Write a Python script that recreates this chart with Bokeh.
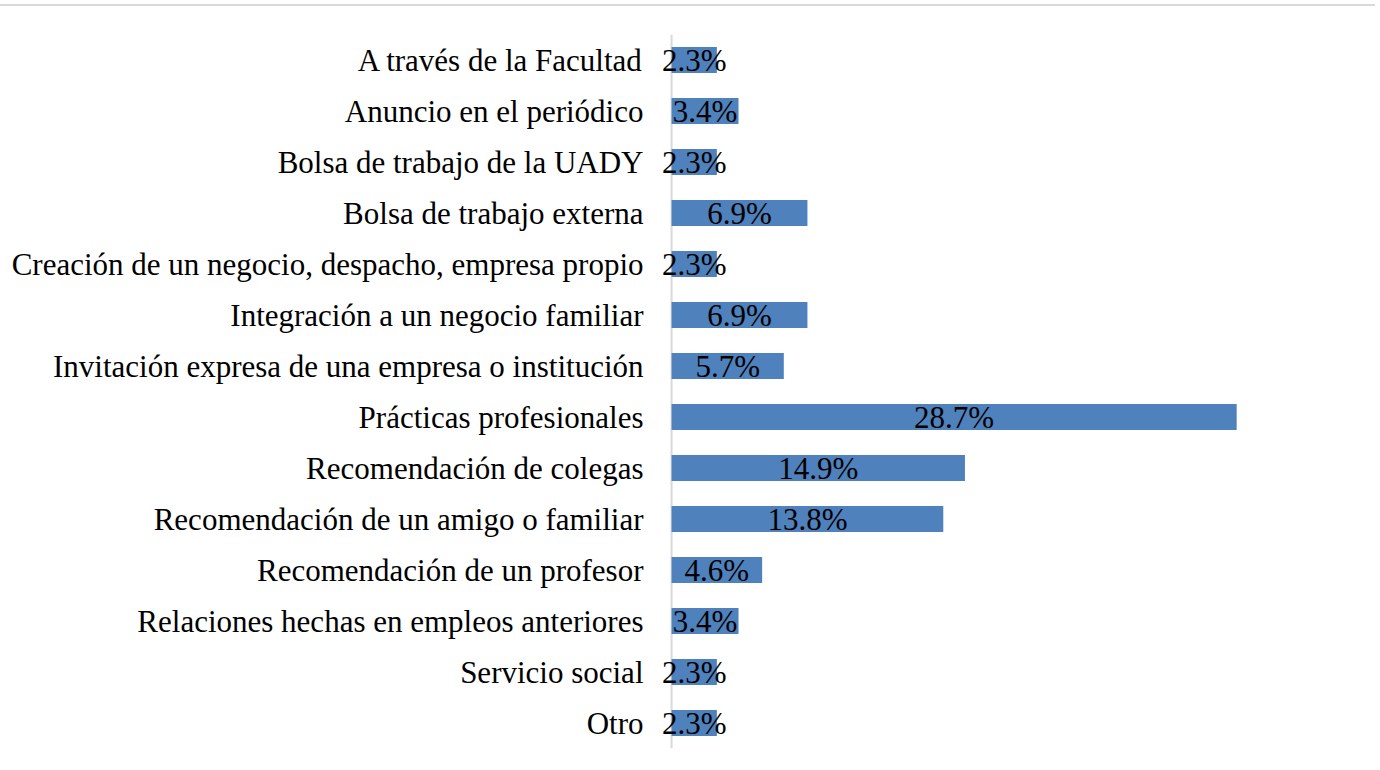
from bokeh.plotting import figure
from bokeh.models import ColumnDataSource, FactorRange, Range1d, Span
from bokeh.core.properties import value
from bokeh.embed import file_html
from bokeh.resources import INLINE

categories = [
    "A través de la Facultad",
    "Anuncio en el periódico",
    "Bolsa de trabajo de la UADY",
    "Bolsa de trabajo externa",
    "Creación de un negocio, despacho, empresa propio",
    "Integración a un negocio familiar",
    "Invitación expresa de una empresa o institución",
    "Prácticas profesionales",
    "Recomendación de colegas",
    "Recomendación de un amigo o familiar",
    "Recomendación de un profesor",
    "Relaciones hechas en empleos anteriores",
    "Servicio social",
    "Otro",
]
percentages = [2.3, 3.4, 2.3, 6.9, 2.3, 6.9, 5.7, 28.7, 14.9, 13.8, 4.6, 3.4, 2.3, 2.3]

FONT = "Liberation Serif"

src = ColumnDataSource(dict(
    cat=categories,
    val=percentages,
    mid=[v / 2 for v in percentages],
    lab=[f"{v:.1f}%" for v in percentages],
))

p = figure(
    width=1375, height=752,
    y_range=FactorRange(factors=list(reversed(categories)), range_padding=0),
    x_range=Range1d(-1.07, 35.75),
    output_backend="svg", toolbar_location=None,
    min_border_left=650, min_border_right=0, min_border_top=28, min_border_bottom=10,
)
p.styles = {"border-top": "2px solid #d9d9d9", "margin-top": "4px"}

p.add_layout(Span(location=0, dimension="height", line_color="#d9d9d9",
                  line_width=2, level="underlay"))

p.hbar(y="cat", right="val", left=0, height=0.51, source=src,
       fill_color="#4f81bd", line_color=None)
p.text(x="mid", y="cat", text="lab", source=src, text_align="center",
       text_baseline="middle", text_font=value(FONT), text_font_size="31px",
       text_color="#000000", y_offset=0)

p.xaxis.visible = False
p.xgrid.visible = False
p.ygrid.visible = False
p.outline_line_color = None

ya = p.yaxis[0]
ya.axis_line_color = None
ya.major_tick_line_color = None
ya.minor_tick_line_color = None
ya.major_label_text_font = FONT
ya.major_label_text_font_size = "31px"
ya.major_label_text_color = "#000000"
ya.major_label_standoff = 1

open("out.html", "w").write(file_html(p, INLINE))
